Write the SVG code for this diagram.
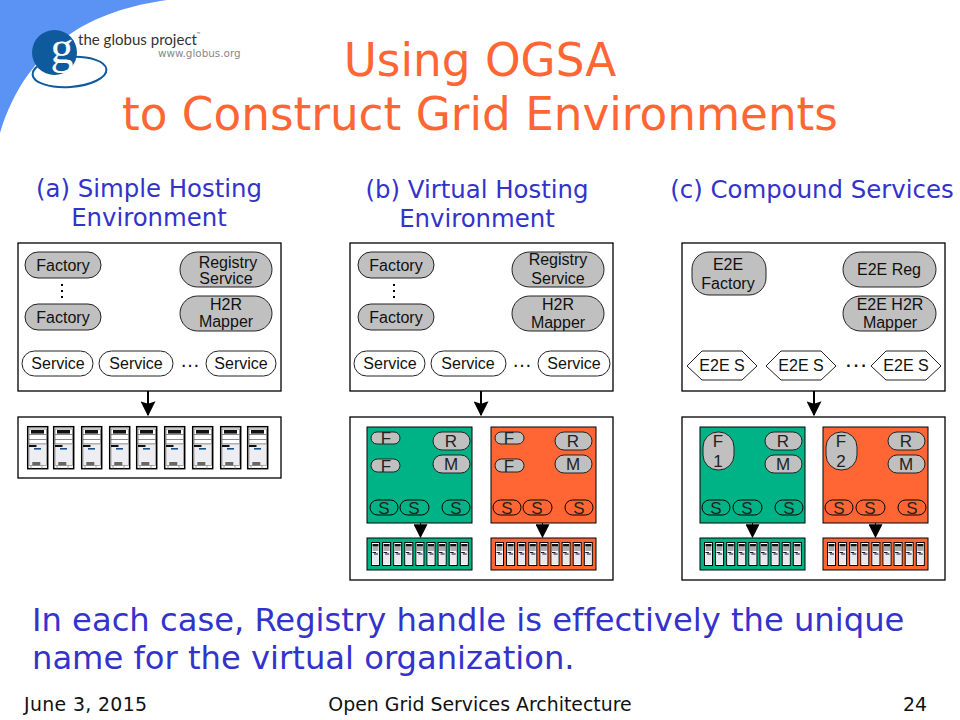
<svg xmlns="http://www.w3.org/2000/svg" xmlns:xlink="http://www.w3.org/1999/xlink" width="960" height="720" viewBox="0 0 960 720">
<style>
text{font-family:"DejaVu Sans",Verdana,sans-serif;font-variant-ligatures:none}
.a{font-family:"Liberation Sans",Arial,sans-serif;font-size:16px;fill:#111;text-anchor:middle}
.s{font-family:"Liberation Sans",Arial,sans-serif;font-size:17px;fill:#222;text-anchor:middle}
.d{font-family:"Liberation Sans",Arial,sans-serif;font-size:20px;fill:#111;text-anchor:middle}
.t{fill:#ff6633;font-size:45.3px;text-anchor:middle}
.h{fill:#3333cc;font-size:24.4px;text-anchor:middle}
.b{fill:#3333cc;font-size:32.2px}
.f{fill:#111;font-size:18.9px}
.box{fill:#fff;stroke:#000;stroke-width:1.3}
.g{fill:#c0c0c0;stroke:#222;stroke-width:1}
.w{fill:#fff;stroke:#222;stroke-width:1}
.gr{fill:#00b386;stroke:#000;stroke-width:1}
.or{fill:#ff6633;stroke:#000;stroke-width:1}
.e{fill:none;stroke:#000;stroke-width:1}
.ar{stroke:#000;stroke-width:2;fill:none;marker-end:url(#ah)}
.ar2{stroke:#000;stroke-width:1;fill:none;marker-end:url(#ah2)}
.dot{stroke:#000;stroke-width:2;fill:none}
</style>
<defs>
<marker id="ah" markerUnits="userSpaceOnUse" markerWidth="15" markerHeight="15" refX="6" refY="11" viewBox="0 0 12 12"><path d="M0 0 L6 2 L12 0 L6 12 Z"/></marker>
<marker id="ah2" markerUnits="userSpaceOnUse" markerWidth="14" markerHeight="14" refX="6" refY="11" viewBox="0 0 12 12"><path d="M0 0 H12 L6 12 Z"/></marker>
<g id="srv">
<rect x="0.7" y="0.7" width="20" height="42" fill="#fff" stroke="#000" stroke-width="1.5"/>
<rect x="2" y="3" width="17.5" height="15" fill="#fff" stroke="#666" stroke-width=".7"/>
<rect x="4" y="4" width="13" height="3.6" fill="#111"/>
<path d="M2 8.5H19.5M2 13.5H19.5" stroke="#555" stroke-width=".7"/>
<rect x="2" y="18" width="17.5" height="21.5" fill="#eeeef2" stroke="#888" stroke-width=".7"/>
<rect x="2" y="19" width="7.5" height="2" fill="#111"/>
<rect x="7" y="22" width="7" height="1.6" fill="#14508c"/>
<rect x="5.3" y="36" width="8" height="3.5" fill="#666"/>
<path d="M4 39.5v3M15 39.5v3" stroke="#888" stroke-width=".8"/>
</g>
<g id="mini">
<rect x="0.5" y="0.5" width="8" height="23" fill="#fff" stroke="#000" stroke-width="1"/>
<rect x="1.5" y="2" width="6" height="2.5" fill="#111"/>
<path d="M1.5 6H7.5M1.5 8H7.5" stroke="#333" stroke-width=".8"/>
<rect x="1.3" y="10" width="6.4" height="12" fill="#e8e8ee"/>
<path d="M1.5 10.5H5M3 12H7" stroke="#113" stroke-width="1"/>
</g>
<g id="row">
<use xlink:href="#mini" x="0"/><use xlink:href="#mini" x="11.1"/><use xlink:href="#mini" x="22.2"/><use xlink:href="#mini" x="33.3"/><use xlink:href="#mini" x="44.4"/><use xlink:href="#mini" x="55.5"/><use xlink:href="#mini" x="66.6"/><use xlink:href="#mini" x="77.7"/><use xlink:href="#mini" x="88.8"/>
</g>
</defs>
<rect width="960" height="720" fill="#fff"/>
<path d="M0 0H167C95 10 28 42 0 133Z" fill="#5b93f5"/>
<g id="logo">
<ellipse cx="69.5" cy="72" rx="37" ry="15" fill="none" stroke="#0f5a9c" stroke-width="2" transform="rotate(-4 69.5 72)"/>
<circle cx="54.5" cy="52.5" r="22.5" fill="#0f5a9c"/>
<text x="62" y="63" font-size="46" fill="#fff" text-anchor="middle" style="font-family:'Liberation Serif',serif">g</text>
<text x="78" y="45" font-size="15.5" fill="#333" textLength="119" lengthAdjust="spacingAndGlyphs" style="font-family:Lato,sans-serif">the globus project</text>
<text x="196" y="36" font-size="5" fill="#333">™</text>
<text x="158" y="57" font-size="10.4" fill="#888">www.globus.org</text>
</g>
<text class="t" x="480" y="76">Using OGSA</text>
<text class="t" x="480" y="130">to Construct Grid Environments</text>
<text class="h" x="149" y="197">(a) Simple Hosting</text>
<text class="h" x="149" y="226">Environment</text>
<text class="h" x="477" y="198">(b) Virtual Hosting</text>
<text class="h" x="477" y="227">Environment</text>
<text class="h" x="812" y="198">(c) Compound Services</text>
<g id="panel-a">
<rect class="box" x="18" y="243" width="263" height="148"/>
<rect class="g" x="25" y="252" width="76" height="26" rx="13"/><text class="a" x="63" y="271">Factory</text>
<rect class="g" x="25" y="304" width="76" height="26" rx="13"/><text class="a" x="63" y="323">Factory</text>
<path class="dot" d="M62 284v2M62 290v2M62 296v2"/>
<rect class="g" x="180" y="252" width="92" height="35" rx="17.5"/><text class="a" x="228" y="268">Registry</text><text class="a" x="226" y="284">Service</text>
<rect class="g" x="180" y="296" width="92" height="35" rx="17.5"/><text class="a" x="226" y="310">H2R</text><text class="a" x="226" y="327">Mapper</text>
<rect class="w" x="22" y="351" width="71" height="25" rx="12.5"/><text class="a" x="58" y="369">Service</text>
<rect class="w" x="99" y="351" width="74" height="25" rx="12.5"/><text class="a" x="136" y="369">Service</text>
<text class="d" x="190" y="367">…</text>
<rect class="w" x="206" y="351" width="70" height="25" rx="12.5"/><text class="a" x="241" y="369">Service</text>
</g>
<g id="hosts-a">
<rect class="box" x="18" y="417" width="263" height="61"/>
<use xlink:href="#srv" x="27" y="426"/><use xlink:href="#srv" x="53" y="426"/><use xlink:href="#srv" x="81" y="426"/><use xlink:href="#srv" x="109" y="426"/><use xlink:href="#srv" x="136" y="426"/><use xlink:href="#srv" x="164" y="426"/><use xlink:href="#srv" x="192" y="426"/><use xlink:href="#srv" x="220" y="426"/><use xlink:href="#srv" x="247" y="426"/>
</g>
<g id="panel-b">
<rect class="box" x="350" y="243" width="263" height="148"/>
<rect class="g" x="358" y="252" width="76" height="26" rx="13"/><text class="a" x="396" y="271">Factory</text>
<rect class="g" x="358" y="304" width="76" height="26" rx="13"/><text class="a" x="396" y="323">Factory</text>
<path class="dot" d="M394 284v2M394 290v2M394 296v2"/>
<rect class="g" x="512" y="252" width="92" height="35" rx="17.5"/><text class="a" x="558" y="265">Registry</text><text class="a" x="558" y="284">Service</text>
<rect class="g" x="512" y="296" width="92" height="35" rx="17.5"/><text class="a" x="558" y="310">H2R</text><text class="a" x="558" y="328">Mapper</text>
<rect class="w" x="354" y="351" width="71" height="25" rx="12.5"/><text class="a" x="390" y="369">Service</text>
<rect class="w" x="431" y="351" width="75" height="25" rx="12.5"/><text class="a" x="468" y="369">Service</text>
<text class="d" x="522" y="367">…</text>
<rect class="w" x="538" y="351" width="72" height="25" rx="12.5"/><text class="a" x="574" y="369">Service</text>
</g>
<g id="hosts-b">
<rect class="box" x="350" y="417" width="263" height="163"/>
<g id="vo-b1">
<rect class="gr" x="367" y="427" width="105" height="96"/>
<rect class="g" x="371" y="432" width="29" height="12" rx="6"/><text class="s" x="386" y="444">F</text>
<rect class="g" x="371" y="459" width="29" height="13" rx="6.5"/><text class="s" x="386" y="472">F</text>
<rect class="g" x="433" y="432" width="37" height="18" rx="9"/><text class="s" x="451" y="447">R</text>
<rect class="g" x="433" y="455" width="37" height="18" rx="9"/><text class="s" x="451" y="470">M</text>
<rect class="e" x="370" y="500" width="28" height="15" rx="7.5"/><text class="s" x="384" y="514">S</text>
<rect class="e" x="400" y="500" width="29" height="15" rx="7.5"/><text class="s" x="414" y="514">S</text>
<rect class="e" x="442" y="500" width="28" height="15" rx="7.5"/><text class="s" x="456" y="514">S</text>
</g>
<g id="vo-b2">
<rect class="or" x="491" y="427" width="105" height="96"/>
<rect class="g" x="495" y="432" width="29" height="12" rx="6"/><text class="s" x="509" y="444">F</text>
<rect class="g" x="495" y="459" width="29" height="13" rx="6.5"/><text class="s" x="509" y="472">F</text>
<rect class="g" x="555" y="432" width="37" height="18" rx="9"/><text class="s" x="573" y="447">R</text>
<rect class="g" x="555" y="455" width="37" height="18" rx="9"/><text class="s" x="573" y="470">M</text>
<rect class="e" x="493" y="500" width="28" height="15" rx="7.5"/><text class="s" x="507" y="514">S</text>
<rect class="e" x="523" y="500" width="29" height="15" rx="7.5"/><text class="s" x="537" y="514">S</text>
<rect class="e" x="565" y="500" width="28" height="15" rx="7.5"/><text class="s" x="579" y="514">S</text>
</g>
<rect class="gr" x="367" y="538" width="105" height="32"/><use xlink:href="#row" x="371" y="542"/>
<rect class="or" x="491" y="538" width="105" height="32"/><use xlink:href="#row" x="495" y="542"/>
</g>
<g id="panel-c">
<rect class="box" x="682" y="243" width="263" height="148"/>
<rect class="g" x="692" y="252" width="74" height="43" rx="17"/><text class="a" x="728" y="270">E2E</text><text class="a" x="728" y="289">Factory</text>
<rect class="g" x="843" y="252" width="93" height="35" rx="17.5"/><text class="a" x="889" y="275">E2E Reg</text>
<rect class="g" x="843" y="296" width="93" height="35" rx="17.5"/><text class="a" x="890" y="310">E2E H2R</text><text class="a" x="890" y="328">Mapper</text>
<path class="w" d="M687 366L702 351H742L757 366L742 380H702Z"/><text class="a" x="722" y="371">E2E S</text>
<path class="w" d="M766 366L781 351H821L836 366L821 380H781Z"/><text class="a" x="801" y="371">E2E S</text>
<text class="d" x="856" y="367" style="font-size:24px">…</text>
<path class="w" d="M871 366L886 351H926L941 366L926 380H886Z"/><text class="a" x="906" y="371">E2E S</text>
</g>
<g id="hosts-c">
<rect class="box" x="682" y="417" width="263" height="163"/>
<g id="vo-c1">
<rect class="gr" x="700" y="427" width="105" height="96"/>
<rect class="g" x="703" y="432" width="31" height="38" rx="15"/><text class="s" x="718" y="447">F</text><text class="s" x="718" y="467">1</text>
<rect class="g" x="765" y="432" width="37" height="18" rx="9"/><text class="s" x="783" y="447">R</text>
<rect class="g" x="765" y="455" width="37" height="18" rx="9"/><text class="s" x="783" y="470">M</text>
<rect class="e" x="702" y="500" width="28" height="15" rx="7.5"/><text class="s" x="716" y="514">S</text>
<rect class="e" x="733" y="500" width="29" height="15" rx="7.5"/><text class="s" x="747" y="514">S</text>
<rect class="e" x="775" y="500" width="28" height="15" rx="7.5"/><text class="s" x="789" y="514">S</text>
</g>
<g id="vo-c2">
<rect class="or" x="823" y="427" width="105" height="96"/>
<rect class="g" x="826" y="432" width="31" height="38" rx="15"/><text class="s" x="841" y="447">F</text><text class="s" x="841" y="467">2</text>
<rect class="g" x="888" y="432" width="37" height="18" rx="9"/><text class="s" x="906" y="447">R</text>
<rect class="g" x="888" y="455" width="37" height="18" rx="9"/><text class="s" x="906" y="470">M</text>
<rect class="e" x="825" y="500" width="28" height="15" rx="7.5"/><text class="s" x="839" y="514">S</text>
<rect class="e" x="856" y="500" width="29" height="15" rx="7.5"/><text class="s" x="870" y="514">S</text>
<rect class="e" x="898" y="500" width="28" height="15" rx="7.5"/><text class="s" x="912" y="514">S</text>
</g>
<rect class="gr" x="700" y="538" width="105" height="32"/><use xlink:href="#row" x="704" y="542"/>
<rect class="or" x="823" y="538" width="105" height="32"/><use xlink:href="#row" x="827" y="542"/>
</g>
<g id="connectors">
<path class="ar" d="M148 391V415"/>
<path class="ar" d="M481 391V415"/>
<path class="ar" d="M814 391V415"/>
<path class="ar2" d="M420.500 523V537"/>
<path class="ar2" d="M542.500 523V537"/>
<path class="ar2" d="M752.500 523V537"/>
<path class="ar2" d="M875.500 523V537"/>
</g>
<text class="b" x="32" y="631">In each case, Registry handle is effectively the unique</text>
<text class="b" x="32" y="669">name for the virtual organization.</text>
<text class="f" x="24" y="711" letter-spacing=".35">June 3, 2015</text>
<text class="f" x="480" y="711" text-anchor="middle">Open Grid Services Architecture</text>
<text class="f" x="903" y="711">24</text>
</svg>
